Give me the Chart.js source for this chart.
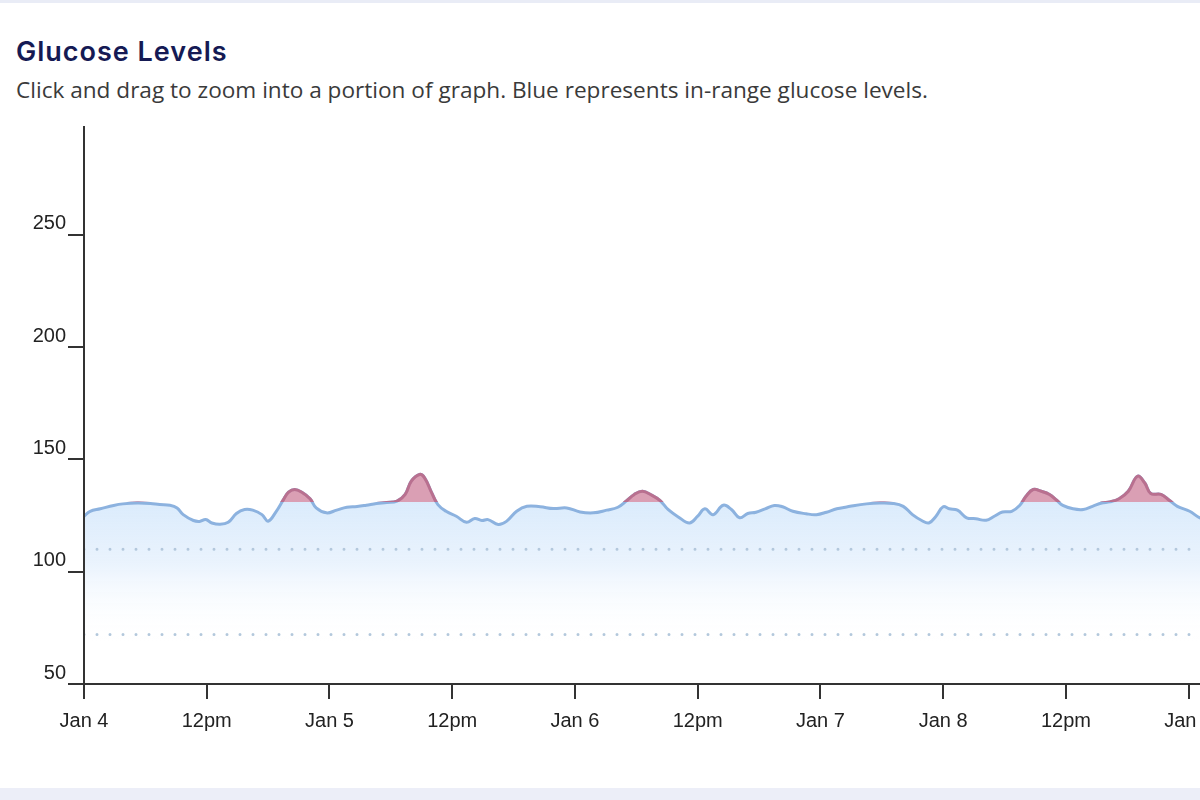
<!DOCTYPE html>
<html>
<head>
<meta charset="utf-8">
<script src="https://cdn.jsdelivr.net/npm/chart.js@4.4.1/dist/chart.umd.min.js"></script>
<style>
    html, body {
        margin: 0;
        padding: 0;
        width: 1200px;
        height: 800px;
        overflow: hidden;
        background: #ffffff;
    }
    .top-band {
        position: absolute; left: 0; top: 0; width: 1200px; height: 3px;
        background: #e9ecf6;
    }
    .bottom-band {
        position: absolute; left: 0; top: 788px; width: 1200px; height: 12px;
        background: #eceef8;
    }
    h1 {
        position: absolute; left: 16px; top: 38px; margin: 0;
        font-family: "Inter", "Noto Sans", sans-serif;
        font-size: 27px; line-height: 27px; font-weight: 600;
        color: #151a54; letter-spacing: 1px;
    }
    .subtitle {
        position: absolute; left: 16px; top: 79px; margin: 0;
        font-family: "Open Sans", "Noto Sans", sans-serif;
        font-size: 22.6px; line-height: 22px; color: #3a3a3a;
    }
    #wrap {
        position: absolute; left: 0; top: 100px; width: 1300px; height: 640px;
    }
</style>
</head>
<body>
<div class="top-band"></div>
<h1>Glucose Levels</h1>
<p class="subtitle">Click and drag to zoom into a portion of graph. Blue represents in-range glucose levels.</p>
<div id="wrap"><canvas id="glucose"></canvas></div>
<div class="bottom-band"></div>

<script>
// hours since Jan 4, 00:00
const hours = [
    0, 0.6, 1.6, 2.9, 3.8, 5.2, 6.5, 7.4, 8.4, 9.1, 9.7, 10.7, 11.3, 11.9, 12.5, 13.3,
    14.1, 14.9, 15.7, 16.5, 17.4, 18.0, 18.8, 19.5, 20.0, 20.6, 21.3, 22.1, 22.7, 23.7,
    24.7, 25.7, 26.7, 27.6, 28.6, 29.6, 30.6, 31.4, 32.0, 32.8, 33.3, 34.0, 34.6, 35.4,
    36.4, 37.4, 38.2, 38.9, 39.5, 40.5, 41.3, 42.3, 43.3, 44.6, 45.9, 47.2, 48.5, 49.8,
    51.1, 52.2, 53.0, 53.8, 54.6, 55.5, 56.3, 57.1, 58.1, 59.2, 60.0, 60.7, 61.5, 62.5,
    63.3, 64.1, 64.9, 65.7, 66.6, 67.5, 68.3, 69.3, 70.6, 71.6, 72.6, 73.6, 74.9, 76.5,
    77.8, 79.1, 80.1, 81.0, 81.9, 82.6, 83.3, 84.0, 84.6, 85.4, 86.3, 87.2, 88.2, 89.0,
    89.8, 90.7, 91.5, 92.1, 92.8, 93.6, 94.4, 95.1, 95.7, 96.7, 97.7, 98.6, 99.5, 100.3,
    101.2, 102.1, 103.0, 103.7, 104.3, 105.3, 106.1, 106.9, 108.1, 109.1, 110.5, 112.0, 114.0
];

// mg/dL
const glucose = [
    124.7, 126.9, 128.0, 129.5, 130.2, 130.6, 130.4, 129.9, 129.6, 128.4, 125.4, 122.8, 122.4, 123.2, 121.7, 121.1,
    122.0, 125.9, 127.7, 127.4, 125.4, 122.5, 126.9, 132.1, 135.4, 136.6, 135.4, 132.5, 128.4, 126.2,
    127.4, 128.7, 129.0, 129.6, 130.4, 130.8, 131.4, 134.4, 140.3, 143.3, 141.8, 135.1, 129.9, 126.9,
    124.7, 122.0, 123.7, 122.8, 123.2, 121.0, 122.4, 126.9, 129.1, 128.9, 128.1, 128.4, 126.6, 126.2,
    127.4, 128.7, 131.4, 134.4, 135.8, 134.1, 131.8, 127.7, 124.4, 121.7, 124.7, 128.0, 125.4, 129.6,
    127.7, 124.0, 125.9, 126.5, 128.0, 129.5, 128.9, 126.9, 125.8, 125.4, 126.5, 128.0, 129.1, 130.2,
    130.6, 130.4, 129.1, 125.4, 122.8, 121.7, 124.7, 128.9, 128.0, 127.4, 124.0, 123.6, 122.9, 124.7,
    126.6, 126.9, 129.6, 133.6, 136.6, 135.8, 134.4, 131.8, 129.5, 128.0, 127.7, 129.1, 130.6, 131.1,
    132.5, 135.8, 142.5, 139.6, 134.8, 134.4, 131.8, 129.1, 126.9, 124.0, 122.3, 121.0, 120.5
];

const xTickHours = [0, 12, 24, 36, 48, 60, 72, 84, 96, 108];
const xTickLabels = ["Jan 4", "12pm", "Jan 5", "12pm", "Jan 6", "12pm", "Jan 7", "Jan 8", "12pm", "Jan 9"];
const yTicks = [50, 100, 150, 200, 250];

const highThreshold = 131;
const rangeLines = [110, 72];

const points = hours.map((h, i) => ({ x: h, y: glucose[i] }));

function blueFill(context) {
    const chart = context.chart;
    const area = chart.chartArea;
    if (!area) {
        return "rgba(215,232,250,0.8)";
    }
    const yScale = chart.scales.y;
    const top = yScale.getPixelForValue(132);
    const bottom = yScale.getPixelForValue(68);
    const gradient = chart.ctx.createLinearGradient(0, top, 0, bottom);
    gradient.addColorStop(0, "rgba(218,235,252,1)");
    gradient.addColorStop(0.45, "rgba(232,242,253,0.9)");
    gradient.addColorStop(1, "rgba(255,255,255,0)");
    return gradient;
}

// only stroke the red copy of the line above the threshold
const clipHighPlugin = {
    id: "clipHigh",
    beforeDatasetDraw(chart, args) {
        if (args.index !== 0) return;
        const area = chart.chartArea;
        const y = chart.scales.y.getPixelForValue(highThreshold);
        const ctx = chart.ctx;
        ctx.save();
        ctx.beginPath();
        ctx.rect(area.left, area.top, area.width, y - area.top);
        ctx.clip();
    },
    afterDatasetDraw(chart, args) {
        if (args.index !== 0) return;
        chart.ctx.restore();
    }
};

const xMin = 0;
const xMax = 114;

const datasets = [
    {
        label: "high",
        data: points,
        borderColor: "#b9708f",
        borderWidth: 3,
        pointRadius: 0,
        tension: 0.4,
        fill: { target: { value: highThreshold }, above: "rgba(218,129,152,0.72)", below: "rgba(0,0,0,0)" }
    },
    ...rangeLines.map(v => ({
        label: "range " + v,
        data: [{ x: xMin, y: v }, { x: xMax, y: v }],
        borderColor: "#b3c8dc",
        borderWidth: 3,
        borderDash: [0, 13],
        borderCapStyle: "round",
        pointRadius: 0,
        fill: false
    })),
    {
        label: "glucose",
        data: points,
        borderColor: "#8cb2df",
        borderWidth: 3,
        pointRadius: 0,
        tension: 0.4,
        fill: "start",
        backgroundColor: blueFill
    }
];

const axisColor = "#333333";
const tickFont = { family: "'Liberation Sans', Arial, sans-serif", size: 20 };

new Chart(document.getElementById("glucose"), {
    type: "line",
    data: { datasets },
    options: {
        responsive: true,
        maintainAspectRatio: false,
        animation: false,
        events: [],
        layout: { padding: { top: 27, right: 50, bottom: 0, left: 0 } },
        plugins: {
            legend: { display: false },
            tooltip: { enabled: false }
        },
        scales: {
            x: {
                type: "linear",
                min: xMin,
                max: xMax,
                afterBuildTicks: axis => { axis.ticks = xTickHours.map(v => ({ value: v })); },
                afterFit: axis => { axis.height = 56; },
                ticks: {
                    color: "#222",
                    font: tickFont,
                    padding: 10,
                    maxRotation: 0,
                    autoSkip: false,
                    callback: (value) => xTickLabels[xTickHours.indexOf(value)]
                },
                grid: { drawOnChartArea: false, drawTicks: true, tickLength: 15, color: axisColor, lineWidth: 2, z: 1 },
                border: { display: true, color: axisColor, width: 2, z: 1 }
            },
            y: {
                type: "linear",
                min: 50,
                max: 298,
                afterBuildTicks: axis => { axis.ticks = yTicks.map(v => ({ value: v })); },
                afterFit: axis => { axis.width = 84; },
                ticks: {
                    color: "#222",
                    font: tickFont,
                    padding: 2,
                    labelOffset: -11
                },
                grid: { drawOnChartArea: false, drawTicks: true, tickLength: 16, color: axisColor, lineWidth: 2, z: 1 },
                border: { display: true, color: axisColor, width: 2, z: 1 }
            }
        }
    },
    plugins: [clipHighPlugin]
});
</script>
</body>
</html>
